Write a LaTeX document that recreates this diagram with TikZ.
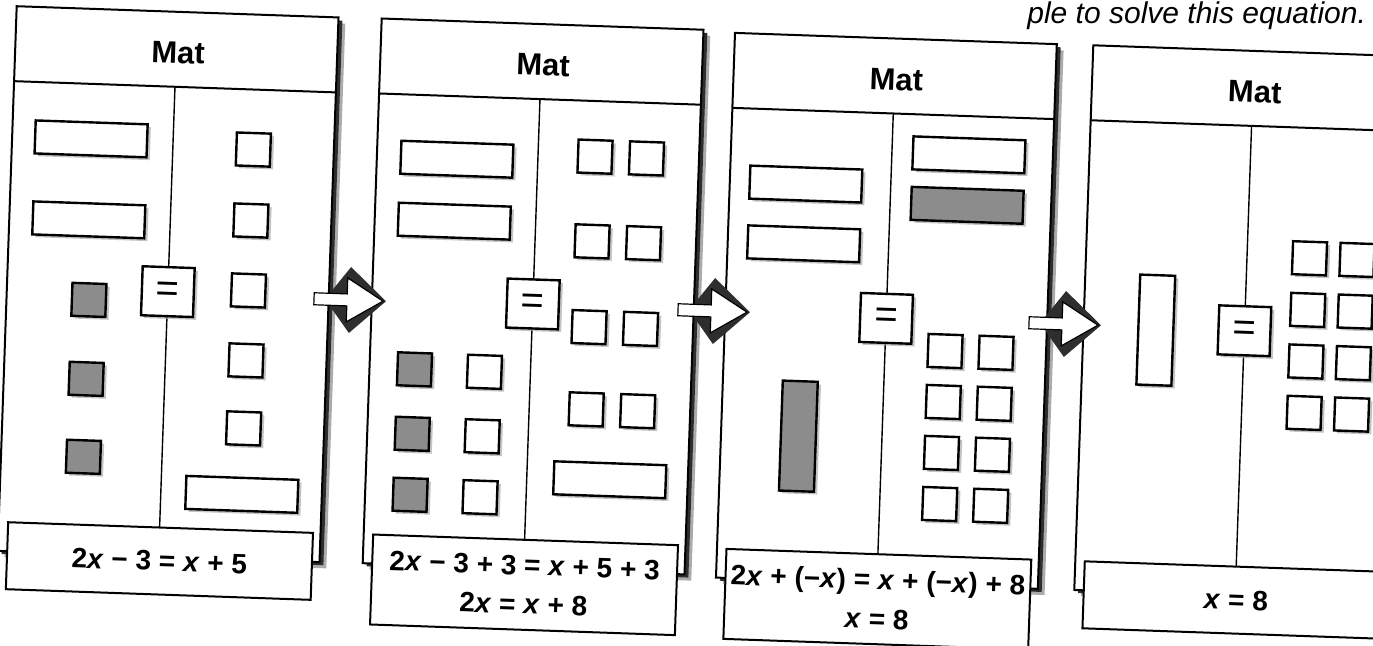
\documentclass[tikz,border=0pt]{standalone}
\usepackage{fontspec}
\setmainfont{Liberation Sans}
\usetikzlibrary{shadows}
\definecolor{tileGray}{HTML}{8C8C8C}
\definecolor{shadeGray}{HTML}{ABABAB}
\definecolor{frameShade}{HTML}{2E2E2E}

\begin{document}
\begin{tikzpicture}[x=0.5pt, y=-0.5pt,
          frame/.style={draw, line width=1pt, fill=white},
          unit/.style={draw, line width=1.2pt, fill=white, inner sep=0pt, minimum width=17pt, minimum height=16.5pt,
                       drop shadow={shadow xshift=1.6pt, shadow yshift=-1.4pt, fill=shadeGray, opacity=.7}},
          neg/.style={unit, fill=tileGray},
          xtile/.style={unit, minimum width=56pt},
          negx/.style={xtile, fill=tileGray},
          xup/.style={unit, minimum width=17.5pt, minimum height=55pt},
          negxup/.style={xup, fill=tileGray},
          eqsign/.style={unit, minimum width=26pt, minimum height=24.5pt, font=\fontsize{20}{20}\selectfont},
          eqbox/.style={draw, line width=1pt, fill=white, anchor=north, minimum width=152.5pt, align=center, inner sep=2pt,
                        font=\bfseries\fontsize{14}{19.5}\selectfont},
          title/.style={font=\bfseries\fontsize{15.5}{18}\selectfont},
          matframe/.pic={
            \fill[shadeGray] (7,6) rectangle (329,551);
            \fill[frameShade] (4,3) rectangle (326,548);
            \draw[frame] (0,0) rectangle (322,545);
            \draw[line width=1pt] (0,75) -- (322,75);
            \draw[line width=.7pt] (161,75) -- (161,545);
            \node[title] (-title) at (163,41) {Mat};
            \node[eqsign] (-eq) at (161,280) {=};
          }]
        \useasboundingbox (0,0) rectangle (1373,645);
        \node[font=\itshape\fontsize{15}{18}\selectfont, anchor=base east] (prompt) at (1373,23) {ple to solve this equation.};

        % mat 1: start
        \begin{scope}[shift={(16.7,6.2)}, rotate=-2, transform shape]
          \pic (m1) {matframe};
          \node[xtile] (a-x1) at (79,130) {};
          \node[xtile] (a-x2) at (79.5,211) {};
          \foreach \v [count=\k] in {291,370,448} \node[neg] (a-n\k) at (82.4,\v) {};
          \foreach \v [count=\k] in {135,206,276,346,414} \node[unit] (a-u\k) at (241.5,\v) {};
          \node[xtile] (a-x3) at (242,480) {};
          \node[eqbox, minimum height=33.5pt] (e1) at (162,515) {2\textit{x} − 3 = \textit{x} + 5};
        \end{scope}

        % mat 2: add 3 to both sides
        \begin{scope}[shift={(381.7,18.5)}, rotate=-2, transform shape]
          \pic (m2) {matframe};
          \node[xtile] (b-x1) at (80,138) {};
          \node[xtile] (b-x2) at (79.6,200) {};
          \foreach \v [count=\k] in {349.5,414,475} {
            \node[neg] (b-n\k) at (45,\v) {};
            \node[unit] (b-p\k) at (115,\v) {};
          }
          \foreach \v [count=\k] in {130.6,215.4,301.2,383.5} {
            \node[unit] (b-u\k) at (218,\v) {};
            \node[unit] (b-w\k) at (269.5,\v) {};
          }
          \node[xtile] (b-x3) at (244,453) {};
          \node[eqbox, minimum height=45pt] (e2) at (162,515) {2\textit{x} − 3 + 3 = \textit{x} + 5 + 3\\ 2\textit{x} = \textit{x} + 8};
        \end{scope}

        % mat 3: take x away
        \begin{scope}[shift={(735,32.9)}, rotate=-2, transform shape]
          \pic (m3) {matframe};
          \node[xtile] (c-x1) at (76,148.6) {};
          \node[xtile] (c-x2) at (76,208.4) {};
          \node[negxup] (c-nx) at (77.4,400.8) {};
          \node[xtile] (c-x3) at (238,113.7) {};
          \node[negx] (c-x4) at (238,164.2) {};
          \foreach \v [count=\k] in {310.6,361.6,412.6,463.7} {
            \node[unit] (c-u\k) at (221,\v) {};
            \node[unit] (c-w\k) at (272,\v) {};
          }
          \node[eqbox, minimum height=45pt] (e3) at (162,515) {2\textit{x} + (−\textit{x}) = \textit{x} + (−\textit{x}) + 8\\ \textit{x} = 8};
        \end{scope}

        % mat 4: result
        \begin{scope}[shift={(1093.3,45.3)}, rotate=-2, transform shape]
          \pic (m4) {matframe};
          \node[xup] (d-x1) at (72.4,282.5) {};
          \foreach \v [count=\k] in {205.3,257,308.6,360} {
            \node[unit] (d-u\k) at (223.5,\v) {};
            \node[unit] (d-w\k) at (271,\v) {};
          }
          \node[eqbox, minimum height=33.5pt] (e4) at (162,515) {\textit{x} = 8};
        \end{scope}

        % step arrows
        \foreach \ax/\ay in {350/300, 714/311, 1065/324} {
          \begin{scope}[shift={(\ax,\ay)}, rotate=-2]
            \fill[frameShade] (0,-33) -- (36,0) -- (0,33) -- (-25,0) -- cycle;
            \draw[line width=.6pt, fill=white] (-36,-6) -- (-3,-6) -- (-3,-22) -- (33,0) -- (-3,22) -- (-3,6) -- (-36,6) -- cycle;
          \end{scope}
        }
      \end{tikzpicture}
\end{document}
